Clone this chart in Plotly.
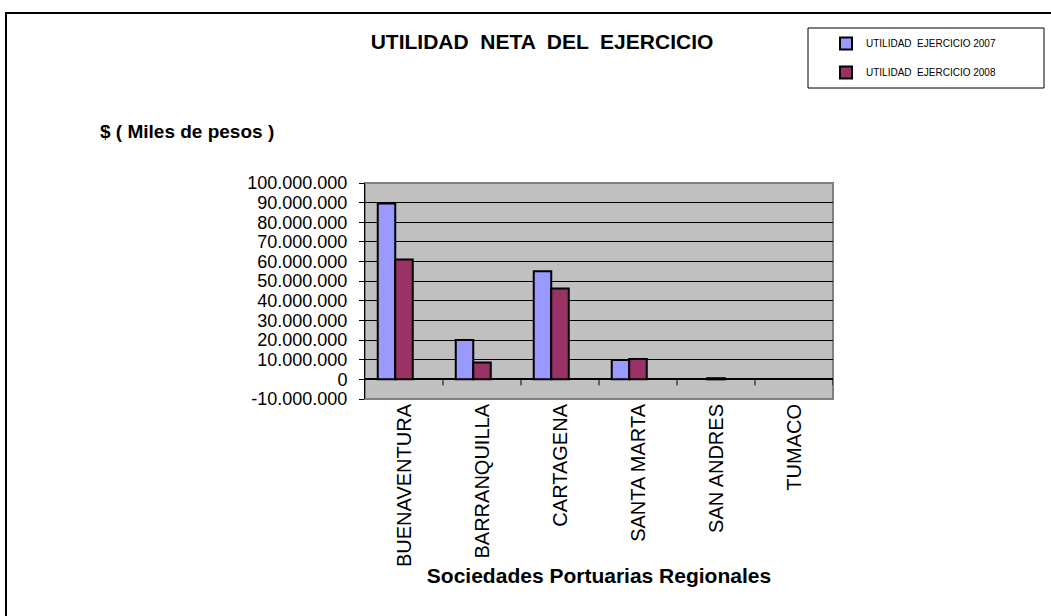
import plotly.graph_objects as go

categories = ["BUENAVENTURA", "BARRANQUILLA", "CARTAGENA", "SANTA MARTA", "SAN ANDRES", "TUMACO"]
utilidad_2007 = [89500000, 20000000, 55000000, 9900000, None, None]
utilidad_2008 = [61000000, 8600000, 46300000, 10400000, 600000, None]
serie_vacia = [None, None, None, None, None, None]
y_tickvals = [-10000000, 0, 10000000, 20000000, 30000000, 40000000, 50000000,
              60000000, 70000000, 80000000, 90000000, 100000000]
y_ticktext = [("-" if v < 0 else "") + f"{abs(v):,}".replace(",", ".") for v in y_tickvals]

FONT = "Arial, Liberation Sans, sans-serif"
x_idx = list(range(len(categories)))

fig = go.Figure()
fig.add_trace(go.Bar(x=x_idx, y=utilidad_2007, name="UTILIDAD  EJERCICIO 2007",
                     marker=dict(color="#9999FF", line=dict(color="black", width=2)),
                     legendgroup="a"))
fig.add_trace(go.Bar(x=x_idx, y=utilidad_2008, name="UTILIDAD  EJERCICIO 2008",
                     marker=dict(color="#993366", line=dict(color="black", width=2)),
                     legendgroup="b"))
# third (empty) series of the original workbook: keeps the bar slots in each group
fig.add_trace(go.Bar(x=x_idx, y=serie_vacia, name="", showlegend=False,
                     marker=dict(color="rgba(0,0,0,0)", line=dict(width=0))))

W, H = 1051, 616
L, R, T, B = 365, 833, 183, 399

def px_x(p):
    return (p - L) / (R - L)

def px_y(p):
    return (B - p) / (B - T)

shapes = [
    dict(type="rect", xref="paper", yref="paper", x0=0, x1=1, y0=0, y1=1,
         line=dict(color="#808080", width=2), layer="below"),
    dict(type="rect", xref="paper", yref="paper", x0=px_x(6), x1=px_x(1070),
         y0=px_y(640), y1=px_y(13), line=dict(color="black", width=2)),
    dict(type="rect", xref="paper", yref="paper", x0=px_x(808), x1=px_x(1044),
         y0=px_y(88), y1=px_y(28), line=dict(color="black", width=1)),
]
for i in range(len(categories)):
    shapes.append(dict(type="line", xref="x", yref="y", ysizemode="pixel", yanchor=0,
                       x0=i + 0.5, x1=i + 0.5, y0=0, y1=-6,
                       line=dict(color="black", width=1)))

fig.update_layout(
    width=W, height=H,
    margin=dict(l=L, r=W - R, t=T, b=H - B),
    paper_bgcolor="white", plot_bgcolor="#C0C0C0",
    barmode="group", bargap=0.327, bargroupgap=0,
    font=dict(family=FONT, color="black"),
    title=dict(text="<b>UTILIDAD  NETA  DEL  EJERCICIO</b>", xref="paper", x=px_x(542),
               xanchor="center", yref="container", y=1 - 42 / H, yanchor="middle",
               font=dict(size=21, family=FONT, color="black")),
    showlegend=True,
    legend=dict(x=px_x(826), y=px_y(29), xanchor="left", yanchor="top",
                bgcolor="rgba(0,0,0,0)", borderwidth=0,
                font=dict(size=10, family=FONT, color="black"),
                traceorder="grouped", tracegroupgap=10),
    shapes=shapes,
    annotations=[dict(text="<b>$ ( Miles de pesos )</b>", xref="paper", yref="paper",
                      x=px_x(98), y=px_y(131), xanchor="left", yanchor="middle",
                      showarrow=False, font=dict(size=19, family=FONT, color="black"))],
)

fig.update_xaxes(range=[-0.5, len(categories) - 0.5], tickvals=x_idx, ticktext=categories,
                 tickangle=-90, tickfont=dict(size=20, family=FONT, color="black"),
                 showgrid=False, zeroline=False, showline=False, ticks="",
                 title=dict(text="<b>Sociedades Portuarias Regionales</b>", standoff=2,
                            font=dict(size=21, family=FONT, color="black")))
fig.update_yaxes(range=[-10000000, 100000000], tickvals=y_tickvals, ticktext=y_ticktext,
                 tickfont=dict(size=18, family=FONT, color="black"),
                 showgrid=True, gridcolor="black", gridwidth=1,
                 zeroline=True, zerolinecolor="black", zerolinewidth=1.5,
                 showline=True, linecolor="black", linewidth=1,
                 ticks="outside", ticklen=5, tickcolor="black", ticklabelstandoff=8)

fig.write_html("out.html", config={"displayModeBar": False},
               post_script="document.body.style.margin='0';")
